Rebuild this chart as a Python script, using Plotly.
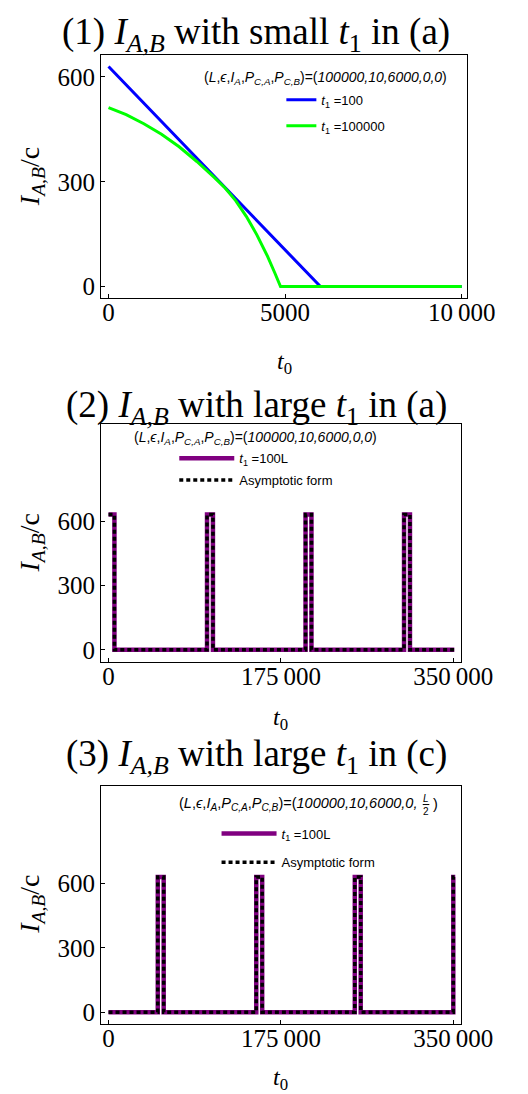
import plotly.graph_objects as go

W, H = 528, 1094

# ---------------- data ----------------
# Panel 1: I_{A,B} with small t1 in (a)
t0_p1_blue = [0, 6000, 10000]
I_p1_blue = [630, 0, 0]
t0_p1_green = [0, 500, 1000, 1500, 2000, 2500, 3000, 3300, 3600, 3900, 4200, 4500, 4700, 4870, 10000]
I_p1_green = [512, 492, 466, 436, 400, 358, 312, 282, 246, 201, 148, 87, 41, 0, 0]

# Panel 2: I_{A,B} with large t1 in (a)
t0_p2 = [0, 6000, 6000, 100000, 100000, 106000, 106000, 200000, 200000,
         206000, 206000, 300000, 300000, 306000, 306000, 351000]
I_p2_num = [630, 630, 0, 0, 630, 630, 0, 0, 630, 630, 0, 0, 630, 630, 0, 0]
I_p2_asym = [630, 630, 0, 0, 630, 630, 0, 0, 630, 630, 0, 0, 630, 630, 0, 0]

# Panel 3: I_{A,B} with large t1 in (c)
t0_p3 = [0, 50000, 50000, 56000, 56000, 150000, 150000, 156000, 156000,
         250000, 250000, 256000, 256000, 350000, 350000, 352000]
I_p3_num = [0, 0, 630, 630, 0, 0, 630, 630, 0, 0, 630, 630, 0, 0, 630, 630]
I_p3_asym = [0, 0, 630, 630, 0, 0, 630, 630, 0, 0, 630, 630, 0, 0, 630, 630]

p1_xticks = [0, 5000, 10000]
p1_xtext = ["0", "5000", "10\u2009000"]
p23_xticks = [0, 175000, 350000]
p23_xtext = ["0", "175\u2009000", "350\u2009000"]
yticks = [0, 300, 600]
ytext = ["0", "300", "600"]

# ---------------- helpers ----------------
def px_x(p):
    return p / W

def px_y(p):
    return 1 - p / H

SERIF = "Liberation Serif"
SANS = "Liberation Sans"
BLUE = "#0000FF"
GREEN = "#00FF00"
PURPLE = "#800080"

fig = go.Figure()

fig.add_trace(go.Scatter(x=t0_p1_blue, y=I_p1_blue, mode="lines",
                         line=dict(color=BLUE, width=3),
                         name="<i>t</i><sub>1</sub> =100", legend="legend",
                         legendgroup="a", xaxis="x", yaxis="y"))
fig.add_trace(go.Scatter(x=t0_p1_green, y=I_p1_green, mode="lines",
                         line=dict(color=GREEN, width=3),
                         name="<i>t</i><sub>1</sub> =100000", legend="legend",
                         legendgroup="b", xaxis="x", yaxis="y"))

fig.add_trace(go.Scatter(x=t0_p2, y=I_p2_num, mode="lines",
                         line=dict(color=PURPLE, width=4.5),
                         name="<i>t</i><sub>1</sub> =100L", legend="legend2",
                         legendgroup="c", xaxis="x2", yaxis="y2"))
fig.add_trace(go.Scatter(x=t0_p2, y=I_p2_asym, mode="lines",
                         line=dict(color="black", width=3.5, dash="4px,3px"),
                         name="Asymptotic form", legend="legend2",
                         legendgroup="d", xaxis="x2", yaxis="y2"))

fig.add_trace(go.Scatter(x=t0_p3, y=I_p3_num, mode="lines",
                         line=dict(color=PURPLE, width=4.5),
                         name="<i>t</i><sub>1</sub> =100L", legend="legend3",
                         legendgroup="e", xaxis="x3", yaxis="y3"))
fig.add_trace(go.Scatter(x=t0_p3, y=I_p3_asym, mode="lines",
                         line=dict(color="black", width=3.5, dash="4px,3px"),
                         name="Asymptotic form", legend="legend3",
                         legendgroup="f", xaxis="x3", yaxis="y3"))

axis_common = dict(showline=True, linecolor="black", linewidth=1, mirror=True,
                   ticks="inside", ticklen=4, tickcolor="black", showgrid=False,
                   zeroline=False, tickfont=dict(family=SERIF, size=25, color="black"))

panels = [
    ("xaxis", "yaxis", (99, 489), (47, 291), [-213, 10160], [-34, 663], p1_xticks, p1_xtext),
    ("xaxis2", "yaxis2", (99, 482), (417, 655), [-7630, 357600], [-56, 1051], p23_xticks, p23_xtext),
    ("xaxis3", "yaxis3", (99, 482), (779, 1018), [-7630, 357600], [-56, 1056], p23_xticks, p23_xtext),
]
layout_axes = {}
for i, (xa, ya, (xl, xr), (yt, yb), xrng, yrng, xt, xtt) in enumerate(panels):
    suffix = "" if i == 0 else str(i + 1)
    layout_axes[xa] = dict(axis_common, domain=[px_x(xl), px_x(xr)], range=xrng,
                           tickvals=xt, ticktext=xtt, anchor="y" + suffix,
                           ticklabelstandoff=-8)
    layout_axes[ya] = dict(axis_common, domain=[px_y(yb), px_y(yt)], range=yrng,
                           tickvals=yticks, ticktext=ytext, anchor="x" + suffix)

annotations = []
def ann(text, x, y, size, family=SERIF, xanchor="center", yanchor="middle", angle=0):
    annotations.append(dict(text=text, x=px_x(x), y=px_y(y), xref="paper", yref="paper",
                            showarrow=False, xanchor=xanchor, yanchor=yanchor,
                            textangle=angle,
                            font=dict(family=family, size=size, color="black")))

titles = ["(1) <i>I</i><sub><i>A,B</i></sub> with small <i>t</i><sub>1</sub> in (a)",
          "(2) <i>I</i><sub><i>A,B</i></sub> with large <i>t</i><sub>1</sub> in (a)",
          "(3) <i>I</i><sub><i>A,B</i></sub> with large <i>t</i><sub>1</sub> in (c)"]
title_y = [27, 400, 750]
for t, yy in zip(titles, title_y):
    ann(t, 264, yy, 37)

ylab = "<i>I</i><sub><i>A,B</i></sub>/c"
for yy in [169, 536, 898]:
    ann(ylab, 25, yy, 28, angle=-90)
xlab = "<i>t</i><sub>0</sub>"
for xx, yy in [(294, 356), (290, 712), (290, 1073)]:
    ann(xlab, xx, yy, 24)

hdr = ("(<i>L</i>,<i>ϵ</i>,<i>I</i><sub><i>A</i></sub>,<i>P</i><sub><i>C,A</i></sub>,"
       "<i>P</i><sub><i>C,B</i></sub>)=(<i>100000,10,6000,0,")
ann(hdr + "0</i>)", 338, 70, 14, family=SANS)
ann(hdr + "0</i>)", 263, 431, 14, family=SANS)
ann(hdr + "</i>", 438, 797, 14.5, family=SANS, xanchor="right")
ann("<i>L</i><br>2", 445, 798, 10, family=SANS)
ann(")", 450, 797, 14.5, family=SANS, xanchor="left")

shapes = [dict(type="line", xref="paper", yref="paper",
               x0=px_x(441.5), x1=px_x(448.5), y0=px_y(798), y1=px_y(798),
               line=dict(color="black", width=1))]

leg_common = dict(bgcolor="rgba(0,0,0,0)", borderwidth=0, xanchor="left", yanchor="top",
                  font=dict(family=SANS, size=13, color="black"), traceorder="grouped")

fig.update_layout(
    width=W, height=H, margin=dict(l=0, r=0, t=0, b=0),
    paper_bgcolor="white", plot_bgcolor="white",
    showlegend=True,
    legend=dict(leg_common, x=px_x(291), y=px_y(77), tracegroupgap=6, itemwidth=30),
    legend2=dict(leg_common, x=px_x(177), y=px_y(436), tracegroupgap=2, itemwidth=55),
    legend3=dict(leg_common, x=px_x(222), y=px_y(812), tracegroupgap=9, itemwidth=55),
    annotations=annotations,
    shapes=shapes,
    **layout_axes,
)

fig.write_html("out.html")
